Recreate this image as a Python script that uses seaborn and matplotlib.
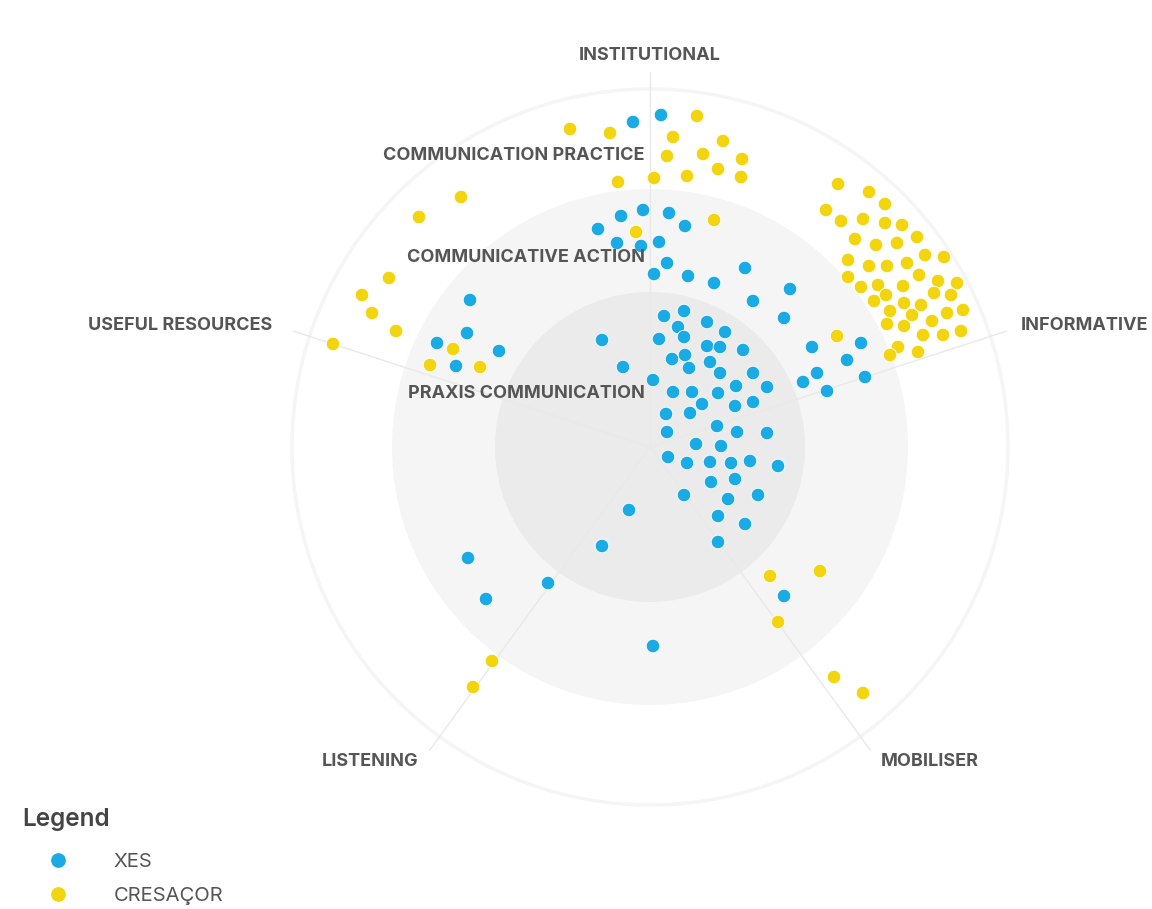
import numpy as np
import pandas as pd
import matplotlib
matplotlib.use("Agg")
import matplotlib.pyplot as plt
import seaborn as sns
from matplotlib.patches import Circle

# ---- data (positions, offsets from the chart centre; y up) ----
axes_labels = ["INSTITUTIONAL", "INFORMATIVE", "MOBILISER", "LISTENING", "USEFUL RESOURCES"]
ring_labels = ["PRAXIS COMMUNICATION", "COMMUNICATIVE ACTION", "COMMUNICATION PRACTICE"]
series_names = ["XES", "CRESAÇOR"]

xes_px = [
    (633, 122), (661, 115),
    (621, 216), (643, 210), (669, 213), (598, 229), (685, 226), (617, 243), (641, 246),
    (659, 242), (667, 263), (654, 274), (688, 276), (714, 283), (745, 268),
    (790, 289), (753, 301), (784, 318),
    (812, 347), (861, 343), (847, 360), (817, 373), (803, 382), (865, 377), (827, 391),
    (602, 340), (623, 367), (653, 380), (664, 316), (684, 311), (707, 322), (725, 332),
    (659, 339), (678, 327), (684, 337), (707, 346), (720, 347), (743, 350), (672, 359),
    (685, 355), (689, 368), (710, 362), (720, 373), (753, 373), (736, 386), (767, 387),
    (673, 392), (692, 392), (718, 393), (702, 404), (735, 406), (753, 402), (666, 414),
    (690, 413), (667, 432), (717, 426), (737, 432), (767, 433), (696, 444), (721, 446),
    (668, 457), (687, 463), (710, 462), (731, 463), (750, 461), (778, 466), (711, 482),
    (735, 479), (684, 495), (728, 499), (758, 495), (718, 516), (745, 524), (718, 542),
    (629, 510), (602, 546), (468, 558), (486, 599), (548, 583), (653, 646),
    (784, 596),
    (470, 300), (467, 333), (437, 343), (499, 351), (456, 366),
]
cres_px = [
    (570, 129), (610, 133), (697, 116), (673, 137), (723, 141), (667, 156), (703, 154),
    (742, 159), (718, 169), (741, 177), (687, 176), (654, 178), (618, 182),
    (636, 232), (714, 220),
    (461, 197), (419, 217), (389, 278), (362, 295), (372, 313), (396, 331), (333, 344),
    (453, 349), (430, 365), (480, 367),
    (838, 184), (869, 192), (885, 204), (826, 210), (841, 221), (863, 219), (885, 223),
    (902, 225), (917, 237), (855, 239), (876, 245), (897, 243), (925, 255), (944, 257),
    (848, 260), (869, 266), (887, 266), (907, 263), (919, 275), (848, 277), (861, 287),
    (878, 285), (886, 295), (903, 286), (938, 281), (957, 283), (874, 301), (890, 311),
    (904, 303), (921, 305), (934, 293), (951, 295), (912, 315), (947, 313), (963, 310),
    (887, 324), (904, 326), (932, 321), (923, 335), (943, 335), (961, 331), (837, 336),
    (898, 347), (918, 352), (890, 355),
    (770, 576), (820, 571), (778, 622), (834, 677), (863, 693), (492, 661), (473, 687),
]

CX, CY = 650, 447
xes_x = [p[0] - CX for p in xes_px]
xes_y = [CY - p[1] for p in xes_px]
cres_x = [p[0] - CX for p in cres_px]
cres_y = [CY - p[1] for p in cres_px]

df = pd.DataFrame({
    "x": xes_x + cres_x,
    "y": xes_y + cres_y,
    "group": [series_names[0]] * len(xes_x) + [series_names[1]] * len(cres_x),
})

BLUE = "#1aaae4"
YELLOW = "#f3d50f"
TXT = "#555555"

sns.set_theme(style="white")
plt.rcParams["font.family"] = ["Inter", "DejaVu Sans"]

fig = plt.figure(figsize=(11.52, 9.09), dpi=100)
ax = fig.add_axes([0, 0, 1, 1])
ax.set_xlim(-CX, 1152 - CX)
ax.set_ylim(CY - 909, CY)
ax.axis("off")

# rings
ax.add_patch(Circle((0, 0), 358, facecolor="white", edgecolor="#f5f5f5", lw=2.5, zorder=0))
ax.add_patch(Circle((0, 0), 258, facecolor="#f5f5f5", edgecolor="none", zorder=0.1))
ax.add_patch(Circle((0, 0), 155, facecolor="#ebebeb", edgecolor="none", zorder=0.2))

# spokes
angles = np.deg2rad([90, 18, -54, -126, 162])
for a in angles:
    ax.plot([0, 375 * np.cos(a)], [0, 375 * np.sin(a)], color="#e9e9e9", lw=1, zorder=0.5)

# axis labels
label_pos = [(0, 392), (435, 122), (280, -315), (-280, -315), (-470, 122)]
for lab, (lx, ly) in zip(axes_labels, label_pos):
    ax.text(lx, ly, lab, ha="center", va="center", fontsize=13, fontweight="bold",
            color=TXT, zorder=5)

# ring labels
for lab, ly in zip(ring_labels, [53, 189, 292]):
    ax.text(-5, ly, lab, ha="right", va="center", fontsize=13, fontweight="bold",
            color=TXT, zorder=5)

sns.scatterplot(data=df, x="x", y="y", hue="group", palette=[BLUE, YELLOW],
                s=95, edgecolor="white", linewidth=0.6, ax=ax, zorder=3, legend=True)

sns.move_legend(ax, "upper left", bbox_to_anchor=(0.0105, 0.122), title="Legend",
                frameon=False, fontsize=14.5, title_fontsize=17.5, alignment="left",
                handlelength=3.58, handletextpad=0.95, labelspacing=0.75, borderpad=0,
                markerscale=1.15)
leg = ax.get_legend()
leg.get_title().set_color("#444444")
leg.get_title().set_fontweight("semibold")
leg._legend_box.sep = 16
for t in leg.get_texts():
    t.set_color(TXT)

fig.savefig("out.png", dpi=100, facecolor="white")
